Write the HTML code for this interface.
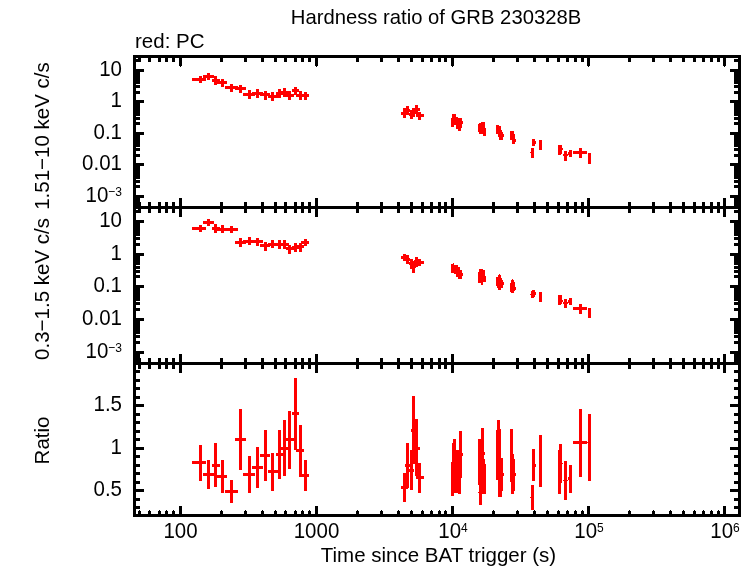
<!DOCTYPE html>
<html><head><meta charset="utf-8"><title>Hardness ratio of GRB 230328B</title>
<style>
html,body{margin:0;padding:0;background:#fff;}
svg{display:block;}
text{font-family:"Liberation Sans",sans-serif;fill:#000;}
</style></head><body>
<svg width="753" height="566" viewBox="0 0 753 566">
<rect x="0" y="0" width="753" height="566" fill="#fff"/>
<g fill="#000" shape-rendering="crispEdges"><rect x="133" y="55" width="608" height="3"/><rect x="133" y="206" width="608" height="3"/><rect x="133" y="362" width="608" height="3"/><rect x="133" y="514" width="608" height="3"/><rect x="133" y="55" width="3" height="462"/><rect x="738" y="55" width="3" height="462"/><rect x="138" y="58" width="3" height="4"/><rect x="138" y="202" width="3" height="11"/><rect x="138" y="358" width="3" height="11"/><rect x="138" y="511" width="3" height="3"/><rect x="139" y="510" width="1" height="1"/><rect x="148" y="58" width="3" height="4"/><rect x="148" y="202" width="3" height="11"/><rect x="148" y="358" width="3" height="11"/><rect x="148" y="511" width="3" height="3"/><rect x="149" y="510" width="1" height="1"/><rect x="158" y="58" width="3" height="4"/><rect x="158" y="202" width="3" height="11"/><rect x="158" y="358" width="3" height="11"/><rect x="158" y="511" width="3" height="3"/><rect x="159" y="510" width="1" height="1"/><rect x="165" y="58" width="3" height="4"/><rect x="165" y="202" width="3" height="11"/><rect x="165" y="358" width="3" height="11"/><rect x="165" y="511" width="3" height="3"/><rect x="166" y="510" width="1" height="1"/><rect x="172" y="58" width="3" height="4"/><rect x="172" y="202" width="3" height="11"/><rect x="172" y="358" width="3" height="11"/><rect x="172" y="511" width="3" height="3"/><rect x="173" y="510" width="1" height="1"/><rect x="179" y="58" width="3" height="8"/><rect x="180" y="66" width="1" height="1"/><rect x="179" y="198" width="3" height="19"/><rect x="179" y="354" width="3" height="19"/><rect x="179" y="506" width="3" height="8"/><rect x="220" y="58" width="3" height="4"/><rect x="220" y="202" width="3" height="11"/><rect x="220" y="358" width="3" height="11"/><rect x="220" y="511" width="3" height="3"/><rect x="221" y="510" width="1" height="1"/><rect x="244" y="58" width="3" height="4"/><rect x="244" y="202" width="3" height="11"/><rect x="244" y="358" width="3" height="11"/><rect x="244" y="511" width="3" height="3"/><rect x="245" y="510" width="1" height="1"/><rect x="261" y="58" width="3" height="4"/><rect x="261" y="202" width="3" height="11"/><rect x="261" y="358" width="3" height="11"/><rect x="261" y="511" width="3" height="3"/><rect x="262" y="510" width="1" height="1"/><rect x="274" y="58" width="3" height="4"/><rect x="274" y="202" width="3" height="11"/><rect x="274" y="358" width="3" height="11"/><rect x="274" y="511" width="3" height="3"/><rect x="275" y="510" width="1" height="1"/><rect x="284" y="58" width="3" height="4"/><rect x="284" y="202" width="3" height="11"/><rect x="284" y="358" width="3" height="11"/><rect x="284" y="511" width="3" height="3"/><rect x="285" y="510" width="1" height="1"/><rect x="294" y="58" width="3" height="4"/><rect x="294" y="202" width="3" height="11"/><rect x="294" y="358" width="3" height="11"/><rect x="294" y="511" width="3" height="3"/><rect x="295" y="510" width="1" height="1"/><rect x="301" y="58" width="3" height="4"/><rect x="301" y="202" width="3" height="11"/><rect x="301" y="358" width="3" height="11"/><rect x="301" y="511" width="3" height="3"/><rect x="302" y="510" width="1" height="1"/><rect x="308" y="58" width="3" height="4"/><rect x="308" y="202" width="3" height="11"/><rect x="308" y="358" width="3" height="11"/><rect x="308" y="511" width="3" height="3"/><rect x="309" y="510" width="1" height="1"/><rect x="315" y="58" width="3" height="8"/><rect x="316" y="66" width="1" height="1"/><rect x="315" y="198" width="3" height="19"/><rect x="315" y="354" width="3" height="19"/><rect x="315" y="506" width="3" height="8"/><rect x="356" y="58" width="3" height="4"/><rect x="356" y="202" width="3" height="11"/><rect x="356" y="358" width="3" height="11"/><rect x="356" y="511" width="3" height="3"/><rect x="357" y="510" width="1" height="1"/><rect x="380" y="58" width="3" height="4"/><rect x="380" y="202" width="3" height="11"/><rect x="380" y="358" width="3" height="11"/><rect x="380" y="511" width="3" height="3"/><rect x="381" y="510" width="1" height="1"/><rect x="397" y="58" width="3" height="4"/><rect x="397" y="202" width="3" height="11"/><rect x="397" y="358" width="3" height="11"/><rect x="397" y="511" width="3" height="3"/><rect x="398" y="510" width="1" height="1"/><rect x="410" y="58" width="3" height="4"/><rect x="410" y="202" width="3" height="11"/><rect x="410" y="358" width="3" height="11"/><rect x="410" y="511" width="3" height="3"/><rect x="411" y="510" width="1" height="1"/><rect x="421" y="58" width="3" height="4"/><rect x="421" y="202" width="3" height="11"/><rect x="421" y="358" width="3" height="11"/><rect x="421" y="511" width="3" height="3"/><rect x="422" y="510" width="1" height="1"/><rect x="430" y="58" width="3" height="4"/><rect x="430" y="202" width="3" height="11"/><rect x="430" y="358" width="3" height="11"/><rect x="430" y="511" width="3" height="3"/><rect x="431" y="510" width="1" height="1"/><rect x="438" y="58" width="3" height="4"/><rect x="438" y="202" width="3" height="11"/><rect x="438" y="358" width="3" height="11"/><rect x="438" y="511" width="3" height="3"/><rect x="439" y="510" width="1" height="1"/><rect x="444" y="58" width="3" height="4"/><rect x="444" y="202" width="3" height="11"/><rect x="444" y="358" width="3" height="11"/><rect x="444" y="511" width="3" height="3"/><rect x="445" y="510" width="1" height="1"/><rect x="451" y="58" width="3" height="8"/><rect x="452" y="66" width="1" height="1"/><rect x="451" y="198" width="3" height="19"/><rect x="451" y="354" width="3" height="19"/><rect x="451" y="506" width="3" height="8"/><rect x="492" y="58" width="3" height="4"/><rect x="492" y="202" width="3" height="11"/><rect x="492" y="358" width="3" height="11"/><rect x="492" y="511" width="3" height="3"/><rect x="493" y="510" width="1" height="1"/><rect x="516" y="58" width="3" height="4"/><rect x="516" y="202" width="3" height="11"/><rect x="516" y="358" width="3" height="11"/><rect x="516" y="511" width="3" height="3"/><rect x="517" y="510" width="1" height="1"/><rect x="533" y="58" width="3" height="4"/><rect x="533" y="202" width="3" height="11"/><rect x="533" y="358" width="3" height="11"/><rect x="533" y="511" width="3" height="3"/><rect x="534" y="510" width="1" height="1"/><rect x="546" y="58" width="3" height="4"/><rect x="546" y="202" width="3" height="11"/><rect x="546" y="358" width="3" height="11"/><rect x="546" y="511" width="3" height="3"/><rect x="547" y="510" width="1" height="1"/><rect x="557" y="58" width="3" height="4"/><rect x="557" y="202" width="3" height="11"/><rect x="557" y="358" width="3" height="11"/><rect x="557" y="511" width="3" height="3"/><rect x="558" y="510" width="1" height="1"/><rect x="566" y="58" width="3" height="4"/><rect x="566" y="202" width="3" height="11"/><rect x="566" y="358" width="3" height="11"/><rect x="566" y="511" width="3" height="3"/><rect x="567" y="510" width="1" height="1"/><rect x="574" y="58" width="3" height="4"/><rect x="574" y="202" width="3" height="11"/><rect x="574" y="358" width="3" height="11"/><rect x="574" y="511" width="3" height="3"/><rect x="575" y="510" width="1" height="1"/><rect x="581" y="58" width="3" height="4"/><rect x="581" y="202" width="3" height="11"/><rect x="581" y="358" width="3" height="11"/><rect x="581" y="511" width="3" height="3"/><rect x="582" y="510" width="1" height="1"/><rect x="587" y="58" width="3" height="8"/><rect x="588" y="66" width="1" height="1"/><rect x="587" y="198" width="3" height="19"/><rect x="587" y="354" width="3" height="19"/><rect x="587" y="506" width="3" height="8"/><rect x="628" y="58" width="3" height="4"/><rect x="628" y="202" width="3" height="11"/><rect x="628" y="358" width="3" height="11"/><rect x="628" y="511" width="3" height="3"/><rect x="629" y="510" width="1" height="1"/><rect x="652" y="58" width="3" height="4"/><rect x="652" y="202" width="3" height="11"/><rect x="652" y="358" width="3" height="11"/><rect x="652" y="511" width="3" height="3"/><rect x="653" y="510" width="1" height="1"/><rect x="669" y="58" width="3" height="4"/><rect x="669" y="202" width="3" height="11"/><rect x="669" y="358" width="3" height="11"/><rect x="669" y="511" width="3" height="3"/><rect x="670" y="510" width="1" height="1"/><rect x="682" y="58" width="3" height="4"/><rect x="682" y="202" width="3" height="11"/><rect x="682" y="358" width="3" height="11"/><rect x="682" y="511" width="3" height="3"/><rect x="683" y="510" width="1" height="1"/><rect x="693" y="58" width="3" height="4"/><rect x="693" y="202" width="3" height="11"/><rect x="693" y="358" width="3" height="11"/><rect x="693" y="511" width="3" height="3"/><rect x="694" y="510" width="1" height="1"/><rect x="702" y="58" width="3" height="4"/><rect x="702" y="202" width="3" height="11"/><rect x="702" y="358" width="3" height="11"/><rect x="702" y="511" width="3" height="3"/><rect x="703" y="510" width="1" height="1"/><rect x="710" y="58" width="3" height="4"/><rect x="710" y="202" width="3" height="11"/><rect x="710" y="358" width="3" height="11"/><rect x="710" y="511" width="3" height="3"/><rect x="711" y="510" width="1" height="1"/><rect x="717" y="58" width="3" height="4"/><rect x="717" y="202" width="3" height="11"/><rect x="717" y="358" width="3" height="11"/><rect x="717" y="511" width="3" height="3"/><rect x="718" y="510" width="1" height="1"/><rect x="723" y="58" width="3" height="8"/><rect x="724" y="66" width="1" height="1"/><rect x="723" y="198" width="3" height="19"/><rect x="723" y="354" width="3" height="19"/><rect x="723" y="506" width="3" height="8"/><rect x="136" y="69" width="8" height="3"/><rect x="730" y="69" width="8" height="3"/><rect x="136" y="59" width="4" height="3"/><rect x="734" y="59" width="4" height="3"/><rect x="136" y="100" width="8" height="3"/><rect x="730" y="100" width="8" height="3"/><rect x="136" y="91" width="4" height="3"/><rect x="734" y="91" width="4" height="3"/><rect x="136" y="85" width="4" height="3"/><rect x="734" y="85" width="4" height="3"/><rect x="136" y="81" width="4" height="3"/><rect x="734" y="81" width="4" height="3"/><rect x="136" y="78" width="4" height="3"/><rect x="734" y="78" width="4" height="3"/><rect x="136" y="76" width="4" height="3"/><rect x="734" y="76" width="4" height="3"/><rect x="136" y="74" width="4" height="3"/><rect x="734" y="74" width="4" height="3"/><rect x="136" y="72" width="4" height="3"/><rect x="734" y="72" width="4" height="3"/><rect x="136" y="70" width="4" height="3"/><rect x="734" y="70" width="4" height="3"/><rect x="136" y="132" width="8" height="3"/><rect x="730" y="132" width="8" height="3"/><rect x="136" y="122" width="4" height="3"/><rect x="734" y="122" width="4" height="3"/><rect x="136" y="117" width="4" height="3"/><rect x="734" y="117" width="4" height="3"/><rect x="136" y="113" width="4" height="3"/><rect x="734" y="113" width="4" height="3"/><rect x="136" y="110" width="4" height="3"/><rect x="734" y="110" width="4" height="3"/><rect x="136" y="107" width="4" height="3"/><rect x="734" y="107" width="4" height="3"/><rect x="136" y="105" width="4" height="3"/><rect x="734" y="105" width="4" height="3"/><rect x="136" y="103" width="4" height="3"/><rect x="734" y="103" width="4" height="3"/><rect x="136" y="102" width="4" height="3"/><rect x="734" y="102" width="4" height="3"/><rect x="136" y="163" width="8" height="3"/><rect x="730" y="163" width="8" height="3"/><rect x="136" y="154" width="4" height="3"/><rect x="734" y="154" width="4" height="3"/><rect x="136" y="148" width="4" height="3"/><rect x="734" y="148" width="4" height="3"/><rect x="136" y="144" width="4" height="3"/><rect x="734" y="144" width="4" height="3"/><rect x="136" y="141" width="4" height="3"/><rect x="734" y="141" width="4" height="3"/><rect x="136" y="139" width="4" height="3"/><rect x="734" y="139" width="4" height="3"/><rect x="136" y="137" width="4" height="3"/><rect x="734" y="137" width="4" height="3"/><rect x="136" y="135" width="4" height="3"/><rect x="734" y="135" width="4" height="3"/><rect x="136" y="133" width="4" height="3"/><rect x="734" y="133" width="4" height="3"/><rect x="136" y="195" width="8" height="3"/><rect x="730" y="195" width="8" height="3"/><rect x="136" y="185" width="4" height="3"/><rect x="734" y="185" width="4" height="3"/><rect x="136" y="180" width="4" height="3"/><rect x="734" y="180" width="4" height="3"/><rect x="136" y="176" width="4" height="3"/><rect x="734" y="176" width="4" height="3"/><rect x="136" y="173" width="4" height="3"/><rect x="734" y="173" width="4" height="3"/><rect x="136" y="170" width="4" height="3"/><rect x="734" y="170" width="4" height="3"/><rect x="136" y="168" width="4" height="3"/><rect x="734" y="168" width="4" height="3"/><rect x="136" y="166" width="4" height="3"/><rect x="734" y="166" width="4" height="3"/><rect x="136" y="165" width="4" height="3"/><rect x="734" y="165" width="4" height="3"/><rect x="136" y="204" width="4" height="3"/><rect x="734" y="204" width="4" height="3"/><rect x="136" y="202" width="4" height="3"/><rect x="734" y="202" width="4" height="3"/><rect x="136" y="200" width="4" height="3"/><rect x="734" y="200" width="4" height="3"/><rect x="136" y="198" width="4" height="3"/><rect x="734" y="198" width="4" height="3"/><rect x="136" y="196" width="4" height="3"/><rect x="734" y="196" width="4" height="3"/><rect x="136" y="220" width="8" height="3"/><rect x="730" y="220" width="8" height="3"/><rect x="136" y="210" width="4" height="3"/><rect x="734" y="210" width="4" height="3"/><rect x="136" y="253" width="8" height="3"/><rect x="730" y="253" width="8" height="3"/><rect x="136" y="243" width="4" height="3"/><rect x="734" y="243" width="4" height="3"/><rect x="136" y="237" width="4" height="3"/><rect x="734" y="237" width="4" height="3"/><rect x="136" y="233" width="4" height="3"/><rect x="734" y="233" width="4" height="3"/><rect x="136" y="230" width="4" height="3"/><rect x="734" y="230" width="4" height="3"/><rect x="136" y="227" width="4" height="3"/><rect x="734" y="227" width="4" height="3"/><rect x="136" y="225" width="4" height="3"/><rect x="734" y="225" width="4" height="3"/><rect x="136" y="223" width="4" height="3"/><rect x="734" y="223" width="4" height="3"/><rect x="136" y="221" width="4" height="3"/><rect x="734" y="221" width="4" height="3"/><rect x="136" y="285" width="8" height="3"/><rect x="730" y="285" width="8" height="3"/><rect x="136" y="275" width="4" height="3"/><rect x="734" y="275" width="4" height="3"/><rect x="136" y="270" width="4" height="3"/><rect x="734" y="270" width="4" height="3"/><rect x="136" y="266" width="4" height="3"/><rect x="734" y="266" width="4" height="3"/><rect x="136" y="262" width="4" height="3"/><rect x="734" y="262" width="4" height="3"/><rect x="136" y="260" width="4" height="3"/><rect x="734" y="260" width="4" height="3"/><rect x="136" y="258" width="4" height="3"/><rect x="734" y="258" width="4" height="3"/><rect x="136" y="256" width="4" height="3"/><rect x="734" y="256" width="4" height="3"/><rect x="136" y="254" width="4" height="3"/><rect x="734" y="254" width="4" height="3"/><rect x="136" y="318" width="8" height="3"/><rect x="730" y="318" width="8" height="3"/><rect x="136" y="308" width="4" height="3"/><rect x="734" y="308" width="4" height="3"/><rect x="136" y="302" width="4" height="3"/><rect x="734" y="302" width="4" height="3"/><rect x="136" y="298" width="4" height="3"/><rect x="734" y="298" width="4" height="3"/><rect x="136" y="295" width="4" height="3"/><rect x="734" y="295" width="4" height="3"/><rect x="136" y="293" width="4" height="3"/><rect x="734" y="293" width="4" height="3"/><rect x="136" y="290" width="4" height="3"/><rect x="734" y="290" width="4" height="3"/><rect x="136" y="288" width="4" height="3"/><rect x="734" y="288" width="4" height="3"/><rect x="136" y="287" width="4" height="3"/><rect x="734" y="287" width="4" height="3"/><rect x="136" y="351" width="8" height="3"/><rect x="730" y="351" width="8" height="3"/><rect x="136" y="341" width="4" height="3"/><rect x="734" y="341" width="4" height="3"/><rect x="136" y="335" width="4" height="3"/><rect x="734" y="335" width="4" height="3"/><rect x="136" y="331" width="4" height="3"/><rect x="734" y="331" width="4" height="3"/><rect x="136" y="328" width="4" height="3"/><rect x="734" y="328" width="4" height="3"/><rect x="136" y="325" width="4" height="3"/><rect x="734" y="325" width="4" height="3"/><rect x="136" y="323" width="4" height="3"/><rect x="734" y="323" width="4" height="3"/><rect x="136" y="321" width="4" height="3"/><rect x="734" y="321" width="4" height="3"/><rect x="136" y="319" width="4" height="3"/><rect x="734" y="319" width="4" height="3"/><rect x="136" y="361" width="4" height="3"/><rect x="734" y="361" width="4" height="3"/><rect x="136" y="358" width="4" height="3"/><rect x="734" y="358" width="4" height="3"/><rect x="136" y="356" width="4" height="3"/><rect x="734" y="356" width="4" height="3"/><rect x="136" y="354" width="4" height="3"/><rect x="734" y="354" width="4" height="3"/><rect x="136" y="352" width="4" height="3"/><rect x="734" y="352" width="4" height="3"/><rect x="136" y="506" width="4" height="3"/><rect x="734" y="506" width="4" height="3"/><rect x="136" y="498" width="4" height="3"/><rect x="734" y="498" width="4" height="3"/><rect x="136" y="489" width="8" height="3"/><rect x="730" y="489" width="8" height="3"/><rect x="136" y="481" width="4" height="3"/><rect x="734" y="481" width="4" height="3"/><rect x="136" y="472" width="4" height="3"/><rect x="734" y="472" width="4" height="3"/><rect x="136" y="464" width="4" height="3"/><rect x="734" y="464" width="4" height="3"/><rect x="136" y="455" width="4" height="3"/><rect x="734" y="455" width="4" height="3"/><rect x="136" y="447" width="8" height="3"/><rect x="730" y="447" width="8" height="3"/><rect x="136" y="438" width="4" height="3"/><rect x="734" y="438" width="4" height="3"/><rect x="136" y="430" width="4" height="3"/><rect x="734" y="430" width="4" height="3"/><rect x="136" y="421" width="4" height="3"/><rect x="734" y="421" width="4" height="3"/><rect x="136" y="413" width="4" height="3"/><rect x="734" y="413" width="4" height="3"/><rect x="136" y="404" width="8" height="3"/><rect x="730" y="404" width="8" height="3"/><rect x="136" y="396" width="4" height="3"/><rect x="734" y="396" width="4" height="3"/><rect x="136" y="387" width="4" height="3"/><rect x="734" y="387" width="4" height="3"/><rect x="136" y="379" width="4" height="3"/><rect x="734" y="379" width="4" height="3"/><rect x="136" y="370" width="4" height="3"/><rect x="734" y="370" width="4" height="3"/></g>
<g fill="#f00" shape-rendering="crispEdges"><rect x="192" y="78" width="14" height="3"/><rect x="199" y="76" width="3" height="7"/><rect x="192" y="227" width="14" height="3"/><rect x="199" y="225" width="3" height="7"/><rect x="192" y="461" width="14" height="3"/><rect x="199" y="445" width="3" height="36"/><rect x="203" y="75" width="11" height="3"/><rect x="207" y="73" width="3" height="7"/><rect x="203" y="221" width="11" height="3"/><rect x="207" y="219" width="3" height="7"/><rect x="203" y="473" width="11" height="3"/><rect x="207" y="460" width="3" height="29"/><rect x="212" y="79" width="8" height="3"/><rect x="214" y="76" width="3" height="9"/><rect x="212" y="227" width="8" height="3"/><rect x="214" y="224" width="3" height="9"/><rect x="212" y="464" width="8" height="3"/><rect x="214" y="443" width="3" height="44"/><rect x="216" y="81" width="11" height="3"/><rect x="221" y="79" width="3" height="8"/><rect x="216" y="228" width="11" height="3"/><rect x="221" y="225" width="3" height="8"/><rect x="216" y="475" width="11" height="3"/><rect x="221" y="460" width="3" height="33"/><rect x="225" y="86" width="13" height="3"/><rect x="230" y="84" width="3" height="8"/><rect x="225" y="228" width="13" height="3"/><rect x="230" y="226" width="3" height="7"/><rect x="225" y="490" width="13" height="3"/><rect x="230" y="480" width="3" height="23"/><rect x="235" y="87" width="11" height="3"/><rect x="239" y="85" width="3" height="8"/><rect x="235" y="241" width="11" height="3"/><rect x="239" y="238" width="3" height="9"/><rect x="235" y="438" width="11" height="3"/><rect x="239" y="409" width="3" height="61"/><rect x="243" y="93" width="12" height="3"/><rect x="248" y="90" width="3" height="9"/><rect x="243" y="240" width="12" height="3"/><rect x="248" y="237" width="3" height="8"/><rect x="243" y="473" width="12" height="3"/><rect x="248" y="456" width="3" height="37"/><rect x="252" y="92" width="11" height="3"/><rect x="256" y="89" width="3" height="9"/><rect x="252" y="240" width="11" height="3"/><rect x="256" y="238" width="3" height="8"/><rect x="252" y="466" width="11" height="3"/><rect x="256" y="447" width="3" height="41"/><rect x="260" y="93" width="10" height="3"/><rect x="264" y="91" width="3" height="9"/><rect x="260" y="244" width="10" height="3"/><rect x="264" y="242" width="3" height="9"/><rect x="260" y="454" width="10" height="3"/><rect x="264" y="430" width="3" height="51"/><rect x="268" y="95" width="10" height="3"/><rect x="271" y="92" width="3" height="9"/><rect x="268" y="243" width="10" height="3"/><rect x="271" y="240" width="3" height="8"/><rect x="268" y="470" width="10" height="3"/><rect x="271" y="453" width="3" height="38"/><rect x="276" y="92" width="7" height="3"/><rect x="278" y="89" width="3" height="9"/><rect x="276" y="243" width="7" height="3"/><rect x="278" y="240" width="3" height="9"/><rect x="276" y="453" width="7" height="3"/><rect x="278" y="430" width="3" height="49"/><rect x="281" y="91" width="8" height="3"/><rect x="283" y="88" width="3" height="9"/><rect x="281" y="243" width="8" height="3"/><rect x="283" y="240" width="3" height="9"/><rect x="281" y="447" width="8" height="3"/><rect x="283" y="420" width="3" height="56"/><rect x="286" y="94" width="8" height="3"/><rect x="288" y="91" width="3" height="9"/><rect x="286" y="247" width="8" height="3"/><rect x="288" y="245" width="3" height="9"/><rect x="286" y="438" width="8" height="3"/><rect x="288" y="411" width="3" height="58"/><rect x="292" y="89" width="7" height="3"/><rect x="294" y="87" width="3" height="8"/><rect x="292" y="246" width="7" height="3"/><rect x="294" y="243" width="3" height="9"/><rect x="292" y="412" width="7" height="3"/><rect x="294" y="378" width="3" height="72"/><rect x="296" y="94" width="8" height="3"/><rect x="299" y="91" width="3" height="9"/><rect x="296" y="245" width="8" height="3"/><rect x="299" y="243" width="3" height="9"/><rect x="296" y="449" width="8" height="3"/><rect x="299" y="425" width="3" height="52"/><rect x="301" y="94" width="8" height="3"/><rect x="304" y="92" width="3" height="8"/><rect x="301" y="241" width="8" height="3"/><rect x="304" y="239" width="3" height="7"/><rect x="301" y="474" width="8" height="3"/><rect x="304" y="460" width="3" height="31"/><rect x="401" y="112" width="7" height="3"/><rect x="403" y="108" width="3" height="10"/><rect x="401" y="256" width="7" height="3"/><rect x="403" y="254" width="3" height="7"/><rect x="401" y="486" width="7" height="3"/><rect x="403" y="473" width="3" height="29"/><rect x="405" y="109" width="5" height="3"/><rect x="406" y="106" width="3" height="9"/><rect x="405" y="258" width="5" height="3"/><rect x="406" y="255" width="3" height="9"/><rect x="405" y="464" width="5" height="3"/><rect x="406" y="443" width="3" height="45"/><rect x="409" y="113" width="5" height="3"/><rect x="410" y="110" width="3" height="9"/><rect x="409" y="262" width="5" height="3"/><rect x="410" y="259" width="3" height="10"/><rect x="409" y="469" width="5" height="3"/><rect x="410" y="450" width="3" height="40"/><rect x="411" y="111" width="5" height="3"/><rect x="412" y="108" width="3" height="9"/><rect x="411" y="265" width="5" height="3"/><rect x="412" y="261" width="3" height="12"/><rect x="411" y="429" width="5" height="3"/><rect x="412" y="396" width="3" height="68"/><rect x="414" y="108" width="6" height="3"/><rect x="415" y="105" width="3" height="9"/><rect x="414" y="260" width="6" height="3"/><rect x="415" y="257" width="3" height="10"/><rect x="414" y="447" width="6" height="3"/><rect x="415" y="419" width="3" height="57"/><rect x="416" y="114" width="8" height="3"/><rect x="418" y="112" width="3" height="8"/><rect x="416" y="261" width="8" height="3"/><rect x="418" y="259" width="3" height="7"/><rect x="416" y="476" width="8" height="3"/><rect x="418" y="463" width="3" height="30"/><rect x="451" y="118" width="1" height="9"/><rect x="452" y="114" width="2" height="13"/><rect x="454" y="114" width="2" height="11"/><rect x="456" y="117" width="2" height="12"/><rect x="458" y="118" width="3" height="13"/><rect x="461" y="118" width="1" height="10"/><rect x="462" y="121" width="1" height="3"/><rect x="451" y="264" width="3" height="9"/><rect x="453" y="263" width="1" height="1"/><rect x="454" y="265" width="2" height="9"/><rect x="456" y="265" width="2" height="12"/><rect x="458" y="267" width="2" height="12"/><rect x="460" y="270" width="2" height="9"/><rect x="462" y="273" width="1" height="3"/><rect x="451" y="462" width="1" height="34"/><rect x="452" y="443" width="1" height="53"/><rect x="453" y="439" width="1" height="57"/><rect x="454" y="439" width="2" height="54"/><rect x="456" y="450" width="2" height="43"/><rect x="458" y="450" width="1" height="44"/><rect x="459" y="431" width="2" height="63"/><rect x="461" y="431" width="1" height="47"/><rect x="462" y="453" width="1" height="3"/><rect x="478" y="124" width="1" height="8"/><rect x="479" y="123" width="2" height="11"/><rect x="481" y="122" width="2" height="12"/><rect x="483" y="122" width="2" height="14"/><rect x="485" y="128" width="1" height="8"/><rect x="478" y="272" width="1" height="11"/><rect x="479" y="269" width="2" height="14"/><rect x="481" y="269" width="2" height="16"/><rect x="483" y="270" width="2" height="12"/><rect x="485" y="276" width="1" height="6"/><rect x="478" y="439" width="1" height="46"/><rect x="478" y="492" width="1" height="1"/><rect x="479" y="439" width="2" height="66"/><rect x="481" y="428" width="1" height="77"/><rect x="482" y="428" width="2" height="66"/><rect x="484" y="452" width="1" height="3"/><rect x="484" y="459" width="1" height="35"/><rect x="485" y="464" width="1" height="30"/><rect x="496" y="125" width="2" height="9"/><rect x="498" y="125" width="1" height="12"/><rect x="499" y="126" width="2" height="14"/><rect x="501" y="130" width="1" height="10"/><rect x="502" y="132" width="1" height="8"/><rect x="503" y="134" width="1" height="3"/><rect x="496" y="277" width="1" height="9"/><rect x="497" y="277" width="1" height="11"/><rect x="498" y="275" width="3" height="15"/><rect x="499" y="274" width="1" height="1"/><rect x="501" y="278" width="1" height="10"/><rect x="502" y="280" width="1" height="8"/><rect x="503" y="282" width="1" height="3"/><rect x="496" y="430" width="1" height="50"/><rect x="497" y="420" width="1" height="60"/><rect x="498" y="420" width="2" height="77"/><rect x="500" y="429" width="1" height="68"/><rect x="501" y="458" width="1" height="39"/><rect x="502" y="458" width="1" height="33"/><rect x="503" y="473" width="1" height="3"/><rect x="510" y="131" width="2" height="9"/><rect x="512" y="131" width="2" height="13"/><rect x="514" y="134" width="1" height="10"/><rect x="515" y="139" width="1" height="3"/><rect x="510" y="283" width="1" height="9"/><rect x="511" y="280" width="3" height="13"/><rect x="512" y="279" width="1" height="1"/><rect x="514" y="282" width="1" height="9"/><rect x="515" y="287" width="1" height="3"/><rect x="510" y="429" width="1" height="53"/><rect x="511" y="429" width="2" height="65"/><rect x="513" y="454" width="1" height="40"/><rect x="514" y="459" width="1" height="32"/><rect x="515" y="473" width="1" height="3"/><rect x="531" y="148" width="3" height="10"/><rect x="530" y="152" width="1" height="1"/><rect x="532" y="139" width="3" height="7"/><rect x="535" y="141" width="1" height="3"/><rect x="539" y="140" width="3" height="10"/><rect x="558" y="145" width="3" height="10"/><rect x="561" y="145" width="1" height="9"/><rect x="562" y="148" width="1" height="2"/><rect x="564" y="151" width="3" height="10"/><rect x="563" y="154" width="5" height="2"/><rect x="569" y="150" width="3" height="7"/><rect x="568" y="152" width="1" height="3"/><rect x="579" y="148" width="3" height="10"/><rect x="573" y="151" width="14" height="3"/><rect x="588" y="153" width="3" height="11"/><rect x="531" y="291" width="3" height="7"/><rect x="530" y="294" width="1" height="1"/><rect x="532" y="290" width="3" height="7"/><rect x="535" y="292" width="1" height="3"/><rect x="539" y="292" width="3" height="10"/><rect x="558" y="295" width="3" height="10"/><rect x="561" y="295" width="1" height="9"/><rect x="562" y="300" width="1" height="2"/><rect x="564" y="299" width="3" height="9"/><rect x="563" y="302" width="5" height="2"/><rect x="569" y="298" width="3" height="7"/><rect x="568" y="300" width="1" height="3"/><rect x="579" y="304" width="3" height="10"/><rect x="573" y="307" width="14" height="3"/><rect x="588" y="308" width="3" height="10"/><rect x="531" y="485" width="3" height="25"/><rect x="530" y="497" width="1" height="1"/><rect x="532" y="449" width="3" height="32"/><rect x="535" y="464" width="1" height="3"/><rect x="539" y="435" width="3" height="52"/><rect x="558" y="450" width="3" height="44"/><rect x="559" y="444" width="3" height="39"/><rect x="562" y="463" width="1" height="1"/><rect x="564" y="461" width="3" height="39"/><rect x="563" y="480" width="5" height="1"/><rect x="569" y="465" width="3" height="28"/><rect x="568" y="477" width="1" height="3"/><rect x="579" y="409" width="3" height="68"/><rect x="573" y="441" width="14" height="3"/><rect x="587" y="442" width="1" height="1"/><rect x="588" y="414" width="3" height="67"/></g>
<g>
<text x="436" y="24" font-size="20.25" text-anchor="middle" >Hardness ratio of GRB 230328B</text>
<text x="135" y="48" font-size="20.5" text-anchor="start" >red: PC</text>
<text x="438.5" y="562" font-size="20.5" text-anchor="middle" >Time since BAT trigger (s)</text>
<text transform="translate(122,76) scale(1,1.07)" font-size="20.5" text-anchor="end">10</text>
<text transform="translate(122,107) scale(1,1.07)" font-size="20.5" text-anchor="end">1</text>
<text transform="translate(122,139) scale(1,1.07)" font-size="20.5" text-anchor="end">0.1</text>
<text transform="translate(122,170) scale(1,1.07)" font-size="20.5" text-anchor="end">0.01</text>
<text transform="translate(122,202) scale(1,1.07)" font-size="20.5" text-anchor="end">10<tspan font-size="12" dy="-5.6">−3</tspan></text>
<text transform="translate(122,227) scale(1,1.07)" font-size="20.5" text-anchor="end">10</text>
<text transform="translate(122,260) scale(1,1.07)" font-size="20.5" text-anchor="end">1</text>
<text transform="translate(122,292) scale(1,1.07)" font-size="20.5" text-anchor="end">0.1</text>
<text transform="translate(122,325) scale(1,1.07)" font-size="20.5" text-anchor="end">0.01</text>
<text transform="translate(122,358) scale(1,1.07)" font-size="20.5" text-anchor="end">10<tspan font-size="12" dy="-5.6">−3</tspan></text>
<text transform="translate(122,411) scale(1,1.07)" font-size="20.5" text-anchor="end">1.5</text>
<text transform="translate(122,454) scale(1,1.07)" font-size="20.5" text-anchor="end">1</text>
<text transform="translate(122,496) scale(1,1.07)" font-size="20.5" text-anchor="end">0.5</text>
<text transform="translate(180.5,538) scale(1,1.07)" font-size="20.5" text-anchor="middle">100</text>
<text transform="translate(316.5,538) scale(1,1.07)" font-size="20.5" text-anchor="middle">1000</text>
<text transform="translate(453,538) scale(1,1.07)" font-size="20.5" text-anchor="middle">10<tspan font-size="12" dy="-5.6">4</tspan></text>
<text transform="translate(589,538) scale(1,1.07)" font-size="20.5" text-anchor="middle">10<tspan font-size="12" dy="-5.6">5</tspan></text>
<text transform="translate(725,538) scale(1,1.07)" font-size="20.5" text-anchor="middle">10<tspan font-size="12" dy="-5.6">6</tspan></text>
<text transform="translate(49,136) rotate(-90)" font-size="20.5" text-anchor="middle">1.51−10 keV c/s</text>
<text transform="translate(49,289) rotate(-90)" font-size="20.5" text-anchor="middle">0.3−1.5 keV c/s</text>
<text transform="translate(49,440.5) rotate(-90)" font-size="20.5" text-anchor="middle">Ratio</text>
</g>
</svg>
</body></html>
